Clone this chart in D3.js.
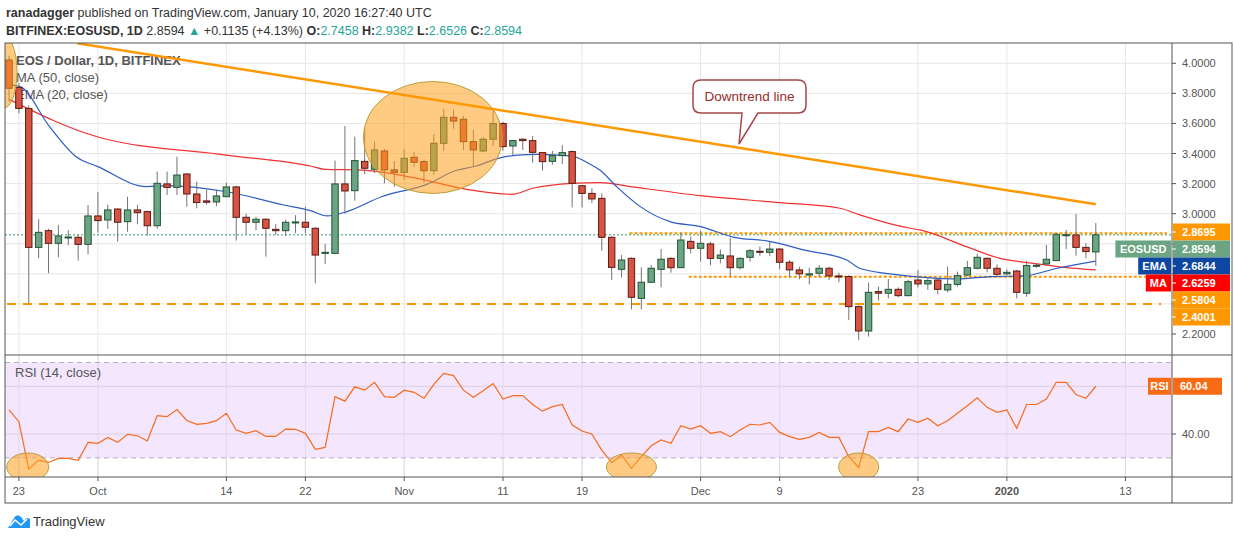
<!DOCTYPE html>
<html><head><meta charset="utf-8">
<script src="https://cdn.jsdelivr.net/npm/d3@7"></script>
<style>body{margin:0;background:#fff}svg{display:block;font-family:"Liberation Sans",Arial,sans-serif}</style>
</head><body><svg id="c" width="1234" height="540"></svg>
<script>
// ---- data (day index 0 = 2019-09-22) ----
const opens=[4.022,3.84,3.70,2.776,2.887,2.803,2.843,2.843,2.796,2.985,2.958,3.031,2.947,3.025,3.014,2.92,3.198,3.175,3.264,3.131,3.085,3.078,3.113,3.178,2.976,2.943,2.963,2.896,2.887,2.943,2.943,
2.903,2.736,2.736,3.198,3.153,3.348,3.295,3.417,3.291,3.275,3.375,3.346,3.286,3.468,3.641,3.628,3.479,3.417,3.495,3.60,3.45,3.495,3.486,3.406,3.348,3.386,3.413,3.186,3.135,3.102,
2.843,2.63,2.703,2.437,2.544,2.63,2.703,2.641,2.816,2.77,2.799,2.703,2.719,2.641,2.71,2.75,2.743,2.765,2.677,2.626,2.592,2.604,2.637,2.586,2.582,2.382,2.22,2.482,2.471,2.497,2.455,
2.559,2.533,2.559,2.493,2.53,2.592,2.637,2.703,2.637,2.6,2.619,2.471,2.655,2.666,2.688,2.858,2.858,2.776,2.7458];
const highs=[4.05,3.87,3.72,2.963,2.90,2.925,2.89,2.86,3.058,3.144,3.06,3.035,3.113,3.058,3.02,3.28,3.28,3.379,3.27,3.213,3.158,3.16,3.207,3.185,3.0,2.98,2.97,2.93,2.96,2.99,3.047,
2.91,2.799,3.353,3.583,3.512,3.568,3.479,3.43,3.35,3.432,3.41,3.36,3.528,3.698,3.694,3.65,3.557,3.51,3.70,3.61,3.49,3.50,3.517,3.41,3.417,3.455,3.42,3.19,3.169,3.135,
2.85,2.725,2.71,2.643,2.659,2.765,2.71,2.874,2.847,2.887,2.814,2.763,2.841,2.71,2.765,2.781,2.814,2.77,2.692,2.648,2.64,2.659,2.648,2.608,2.59,2.39,2.542,2.515,2.566,2.51,2.56,
2.626,2.58,2.565,2.648,2.615,2.686,2.732,2.71,2.663,2.63,2.625,2.686,2.67,2.792,2.87,2.892,2.998,2.803,2.9382];
const lows=[3.745,3.667,2.404,2.703,2.604,2.71,2.79,2.688,2.73,2.874,2.90,2.814,2.88,2.93,2.854,2.90,3.124,3.124,3.047,3.036,3.06,3.05,3.11,2.821,2.865,2.89,2.714,2.86,2.85,2.87,2.87,
2.537,2.666,2.73,3.0,3.087,3.264,3.27,3.202,3.18,3.224,3.31,3.206,3.257,3.419,3.565,3.424,3.317,3.41,3.45,3.419,3.39,3.424,3.339,3.286,3.326,3.33,3.042,3.042,3.07,2.754,
2.559,2.577,2.364,2.364,2.54,2.51,2.608,2.64,2.737,2.681,2.657,2.67,2.586,2.63,2.681,2.72,2.719,2.63,2.577,2.564,2.53,2.577,2.559,2.544,2.293,2.16,2.183,2.422,2.437,2.444,2.45,
2.51,2.493,2.464,2.477,2.515,2.585,2.63,2.61,2.577,2.59,2.437,2.448,2.64,2.66,2.685,2.765,2.721,2.703,2.6526];
const closes=[3.834,3.70,2.776,2.876,2.803,2.852,2.845,2.796,2.985,2.954,3.025,2.943,3.025,3.007,2.92,3.202,3.175,3.257,3.131,3.074,3.076,3.118,3.178,2.976,2.943,2.963,2.903,2.887,2.943,2.945,2.91,
2.725,2.743,3.198,3.151,3.353,3.302,3.424,3.291,3.275,3.368,3.342,3.286,3.468,3.641,3.616,3.479,3.424,3.495,3.60,3.446,3.486,3.486,3.408,3.346,3.386,3.406,3.202,3.135,3.098,2.843,
2.643,2.692,2.444,2.544,2.637,2.697,2.641,2.825,2.77,2.803,2.703,2.725,2.641,2.703,2.754,2.745,2.765,2.677,2.626,2.60,2.60,2.637,2.586,2.582,2.382,2.22,2.477,2.471,2.497,2.455,2.548,
2.533,2.555,2.497,2.53,2.588,2.641,2.71,2.637,2.597,2.61,2.477,2.655,2.657,2.697,2.863,2.86,2.776,2.748,2.8594];
const rsi=[50.1,45.2,25.3,29.1,28.1,29.8,29.8,29,36.5,36.1,38.6,36.5,39.9,39.3,37.1,47.7,47.3,50.3,45.7,44.1,44.5,45.6,48.7,41.7,40.3,41.4,39,39,42.1,42,40.3,33.6,34.4,55.7,53.8,59.8,58.4,61.7,55.7,55.4,58.4,57.5,55,60.8,65.4,64.5,58.4,55.4,58.2,61.2,54.7,56.1,56.1,52.4,49.6,51.5,52.4,43.8,41.3,39.9,33.3,
28,31.2,25.6,30.5,35.1,37.5,36.1,43.5,42.1,43.5,40.3,41,38.9,41.7,44.1,43.8,44.9,40.7,38.9,37.8,38.6,40.7,38.6,38.6,30.5,26,41,41,42.8,41,46.3,44.9,46.6,43.5,45.6,48.7,51.9,55.2,51.2,49.1,50.1,42.4,52.4,52.4,54.7,61.7,61.7,56.6,55,60.04];
const maPts=[[0,3.76],[9,3.51],[22,3.39],[30.5,3.317],[32,3.295],[35.8,3.29],[41.3,3.235],[46.3,3.162],[50.9,3.129],[53,3.169],[57,3.202],[59.8,3.207],[62.9,3.18],[70,3.12],[78,3.074],[84.1,3.036],[86.1,2.992],[91.2,2.903],[92.2,2.892],[96.9,2.781],[100.3,2.703],[103.7,2.67],[107,2.641],[110,2.626]];
const emaPts=[[0,3.856],[1.1,3.845],[4.1,3.579],[6.8,3.379],[9,3.313],[13.9,3.18],[16,3.186],[22,3.146],[27.8,3.058],[30.5,3.02],[32.2,2.985],[34.2,3.014],[37.7,3.113],[42.4,3.198],[45.1,3.284],[47.3,3.317],[49.5,3.368],[51.5,3.39],[53.5,3.395],[56.9,3.384],[58.8,3.33],[59.8,3.29],[61.5,3.18],[63.9,3.047],[66.9,2.947],[70,2.914],[73.4,2.843],[76.7,2.819],[80.8,2.754],[84.8,2.692],[86.1,2.637],[90.2,2.592],[92.6,2.577],[96,2.566],[99.4,2.582],[102.7,2.586],[106.1,2.637],[110,2.684]];
const priceTicks=[2.2,2.4,2.6,2.8,3.0,3.2,3.4,3.6,3.8,4.0];
const dateTicks=[[1,"23"],[9,"Oct"],[22,"14"],[30,"22"],[40,"Nov"],[50,"11"],[58,"19"],[70,"Dec"],[78,"9"],[92,"23"],[101,"2020"],[113,"13"]];
const trendLine=[[6.9,4.133],[110,3.063]];
const levels=[{p:2.4001,from:-0.2,to:116.6,dash:"9,7",w:2},{p:2.8695,from:62.8,to:117.2,dash:"3,2",w:2},{p:2.5804,from:68.8,to:117.2,dash:"3,2",w:2}];
const priceFlags=[{t:"2.8695",y:2.8695,c:"#ff9800"},{t:"2.8594",y:2.8594,c:"#6ba583",lab:"EOSUSD"},{t:"2.6844",y:2.6844,c:"#0d47a1",lab:"EMA"},{t:"2.6259",y:2.6259,c:"#ff0000",lab:"MA"},{t:"2.5804",y:2.5804,c:"#ff9800"},{t:"2.4001",y:2.4001,c:"#ff9800"}];

const svg=d3.select("#c");
const L=5,R=1172,AX=1232;
const x=d3.scaleLinear().domain([0,1]).range([9,18.88]);
const y=d3.scaleLinear().domain([2.2,4.0]).range([334,63.3]);
const ry=d3.scaleLinear().domain([30,70]).range([457.9,362.5]);
const PT=43,PB=355,RT=356,RB=477,BB=503;

const h1=svg.append("text").attr("x",6).attr("y",17).attr("font-size",12.5).attr("fill","#333");
h1.append("tspan").attr("font-weight","bold").text("ranadagger");
h1.append("tspan").text(" published on TradingView.com, January 10, 2020 16:27:40 UTC");
const h2=svg.append("text").attr("x",6).attr("y",35).attr("font-size",12.5).attr("fill","#333");
h2.append("tspan").attr("font-weight","bold").text("BITFINEX:EOSUSD, 1D");
h2.append("tspan").text("  2.8594 ");
h2.append("tspan").attr("fill","#26a69a").text("▲");
h2.append("tspan").text(" +0.1135 (+4.13%) ");
[["O:","2.7458"],["H:","2.9382"],["L:","2.6526"],["C:","2.8594"]].forEach(([a,b])=>{h2.append("tspan").attr("font-weight","bold").text(a);h2.append("tspan").attr("fill","#26a69a").text(b+" ");});

const defs=svg.append("defs");
defs.append("clipPath").attr("id","cp").append("rect").attr("x",L).attr("y",PT).attr("width",R-L).attr("height",PB-PT);
defs.append("clipPath").attr("id","cr").append("rect").attr("x",L).attr("y",RT).attr("width",R-L).attr("height",RB-RT);

const g=svg.append("g").attr("stroke","#e6e6e6").attr("stroke-width",1);
dateTicks.forEach(d=>{g.append("line").attr("x1",x(d[0])).attr("x2",x(d[0])).attr("y1",PT).attr("y2",RB);});
priceTicks.concat([4.2]).forEach(p=>{if(y(p)>PT)g.append("line").attr("x1",L).attr("x2",R).attr("y1",y(p)).attr("y2",y(p));});

svg.append("rect").attr("x",L).attr("width",R-L).attr("y",ry(70)).attr("height",ry(30)-ry(70)).attr("fill","#f3e6fd");
[60,40].forEach(v=>svg.append("line").attr("x1",L).attr("x2",R).attr("y1",ry(v)).attr("y2",ry(v)).attr("stroke","#dcd0e6"));
dateTicks.forEach(d=>svg.append("line").attr("x1",x(d[0])).attr("x2",x(d[0])).attr("y1",RT).attr("y2",RB).attr("stroke","#e0dae6"));
[70,30].forEach(v=>svg.append("line").attr("x1",L).attr("x2",R).attr("y1",ry(v)).attr("y2",ry(v)).attr("stroke","#b9adc4").attr("stroke-dasharray","5,4"));

const P=svg.append("g").attr("clip-path","url(#cp)");
const lg=P.append("g").attr("font-size",13).attr("fill","#555");
lg.append("text").attr("x",16).attr("y",65).attr("font-weight","bold").text("EOS / Dollar, 1D, BITFINEX");
lg.append("text").attr("x",16).attr("y",82).text("MA (50, close)");
lg.append("text").attr("x",16).attr("y",99).text("EMA (20, close)");

P.append("line").attr("x1",L).attr("x2",R).attr("y1",y(2.8594)).attr("y2",y(2.8594)).attr("stroke","#3d9a6a").attr("stroke-dasharray","2,2");
levels.forEach(l=>P.append("line").attr("x1",x(l.from)).attr("x2",x(l.to)).attr("y1",y(l.p)).attr("y2",y(l.p)).attr("stroke","#ff9800").attr("stroke-width",l.w).attr("stroke-dasharray",l.dash));

const ln=d3.line().x(d=>x(d[0])).y(d=>y(d[1])).curve(d3.curveMonotoneX);
P.append("path").attr("d",ln(maPts)).attr("fill","none").attr("stroke","#f23030").attr("stroke-width",1.2);
P.append("path").attr("d",ln(emaPts)).attr("fill","none").attr("stroke","#2c5cc5").attr("stroke-width",1.2);

const idx=d3.range(closes.length);
const bw=6.4;
const cg=P.append("g");
idx.forEach(i=>{
  const up=closes[i]>=opens[i];
  cg.append("line").attr("x1",x(i)).attr("x2",x(i)).attr("y1",y(highs[i])).attr("y2",y(lows[i])).attr("stroke","#737375");
  const t=y(Math.max(opens[i],closes[i])),b=y(Math.min(opens[i],closes[i]));
  cg.append("rect").attr("x",x(i)-bw/2).attr("y",t).attr("width",bw).attr("height",Math.max(1,b-t))
    .attr("fill",up?"#6ba583":"#d75442").attr("stroke",up?"#225437":"#5b1a13").attr("stroke-width",1);
});

P.append("ellipse").attr("cx",x(42.9)).attr("cy",y(3.507)).attr("rx",69.5).attr("ry",56).attr("fill","rgba(255,160,30,0.55)").attr("stroke","#b9a03a").attr("stroke-width",1);
P.append("ellipse").attr("cx",4).attr("cy",72).attr("rx",13).attr("ry",36).attr("fill","rgba(255,160,30,0.55)").attr("stroke","#b9a03a");

P.append("line").attr("x1",x(trendLine[0][0])).attr("y1",y(trendLine[0][1])).attr("x2",x(trendLine[1][0])).attr("y2",y(trendLine[1][1])).attr("stroke","#ff9800").attr("stroke-width",2.5);

const co=svg.append("g");
co.append("path").attr("d","M701,80 H798 Q806,80 806,88 V105 Q806,113 798,113 H758 L739,144 L742,113 H701 Q693,113 693,105 V88 Q693,80 701,80 Z").attr("fill","#fff").attr("stroke","#a8454a").attr("stroke-width",1.5);
co.append("text").attr("x",749.5).attr("y",101).attr("text-anchor","middle").attr("font-size",13.5).attr("fill","#9c2a2e").text("Downtrend line");

const RG=svg.append("g").attr("clip-path","url(#cr)");
RG.append("text").attr("x",15).attr("y",377).attr("font-size",13).attr("fill","#555").text("RSI (14, close)");
RG.append("path").attr("d",d3.line().x((d,i)=>x(i)).y(d=>ry(d))(rsi)).attr("fill","none").attr("stroke","#f76b1c").attr("stroke-width",1.2);
[[1.9,21,14],[63,25,14],[86,20,14]].forEach(e=>RG.append("ellipse").attr("cx",x(e[0])).attr("cy",467).attr("rx",e[1]).attr("ry",e[2]).attr("fill","rgba(255,160,30,0.55)").attr("stroke","#b9a03a"));

const fr=svg.append("g").attr("stroke","#555").attr("fill","none");
fr.append("rect").attr("x",L).attr("y",PT).attr("width",AX-L).attr("height",BB-PT);
fr.append("line").attr("x1",R).attr("x2",R).attr("y1",PT).attr("y2",BB);
fr.append("line").attr("x1",L).attr("x2",AX).attr("y1",PB).attr("y2",PB);
fr.append("line").attr("x1",L).attr("x2",AX).attr("y1",RB).attr("y2",RB);

const fy=[232,249,266,283,300,317];
const ax=svg.append("g").attr("font-size",11).attr("fill","#555");
priceTicks.forEach(p=>{ax.append("line").attr("x1",R).attr("x2",R+4).attr("y1",y(p)).attr("y2",y(p)).attr("stroke","#555");
  const yy=y(p); if(fy.some(f=>Math.abs(f-yy)<14)) return;
  ax.append("text").attr("x",R+10).attr("y",yy+4).text(p.toFixed(4));});
ax.append("line").attr("x1",R).attr("x2",R+4).attr("y1",ry(40)).attr("y2",ry(40)).attr("stroke","#555");
ax.append("text").attr("x",R+10).attr("y",ry(40)+4).text("40.00");
dateTicks.forEach(d=>{ax.append("line").attr("x1",x(d[0])).attr("x2",x(d[0])).attr("y1",RB).attr("y2",RB+4).attr("stroke","#555");
  ax.append("text").attr("x",x(d[0])).attr("y",495).attr("text-anchor","middle").attr("font-weight",d[1]==="2020"?"bold":"normal").text(d[1]);});

priceFlags.forEach((f,i)=>{
  const cy=fy[i];
  svg.append("rect").attr("x",R+1).attr("y",cy-8.5).attr("width",57).attr("height",17).attr("fill",f.c);
  svg.append("line").attr("x1",R).attr("x2",R+4).attr("y1",cy).attr("y2",cy).attr("stroke","#fff");
  svg.append("text").attr("x",R+10).attr("y",cy+4).attr("font-size",11).attr("font-weight","bold").attr("fill","#fff").text(f.t);
  if(f.lab){const w=f.lab.length*7.6+10;
    svg.append("rect").attr("x",R-1-w).attr("y",cy-8.5).attr("width",w).attr("height",17).attr("fill",f.c);
    svg.append("text").attr("x",R-1-w/2).attr("y",cy+4).attr("text-anchor","middle").attr("font-size",11).attr("font-weight","bold").attr("fill","#fff").text(f.lab);}
});
const rc=ry(60.04);
svg.append("rect").attr("x",1148).attr("y",rc-8.5).attr("width",23).attr("height",17).attr("fill","#f96b13");
svg.append("text").attr("x",1159.5).attr("y",rc+4).attr("text-anchor","middle").attr("font-size",11).attr("font-weight","bold").attr("fill","#fff").text("RSI");
svg.append("rect").attr("x",R+1).attr("y",rc-8.5).attr("width",49).attr("height",17).attr("fill","#f96b13");
svg.append("text").attr("x",R+8).attr("y",rc+4).attr("font-size",11).attr("font-weight","bold").attr("fill","#fff").text("60.04");

svg.append("path").attr("d","M8,528 L14,518 Q17,513 21,517 L24,521 Q26,516 30,519 L30,528 Z").attr("fill","#2196f3");
svg.append("path").attr("d","M10,526 L15,520 L21,525 L27,519").attr("fill","none").attr("stroke","#fff").attr("stroke-width",1.5);
svg.append("text").attr("x",33).attr("y",526).attr("font-size",13).attr("fill","#333").text("TradingView");
</script></body></html>
